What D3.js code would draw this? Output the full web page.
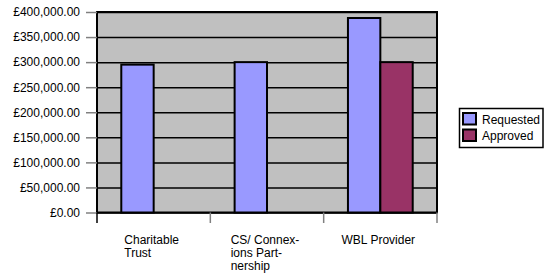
<!DOCTYPE html>
<html>
<head>
<meta charset="utf-8">
<script src="https://cdn.jsdelivr.net/npm/d3@7"></script>
<style>
  body { margin: 0; background: #fff; }
  svg { display: block; font-family: Arial, 'Liberation Sans', sans-serif; }
</style>
</head>
<body>
<div id="chart"></div>
<script>
const categories = [
  ['Charitable', 'Trust'],
  ['CS/ Connex-', 'ions Part-', 'nership'],
  ['WBL Provider'],
]
const seriesNames = ['Requested', 'Approved']
const requested = [295000, 300000, 388000]
const approved = [0, 0, 300000]
const yTicks = [0, 50000, 100000, 150000, 200000, 250000, 300000, 350000, 400000]

const colors = { Requested: '#9999FF', Approved: '#993366' }

const width = 544
const height = 278
const plot = { left: 97, right: 437, top: 12, bottom: 212.5 }

const svg = d3
  .select('#chart')
  .append('svg')
  .attr('width', width)
  .attr('height', height)

const catKeys = categories.map((c) => c.join(' '))
const rows = catKeys.map((k, i) => ({ key: k, Requested: requested[i], Approved: approved[i] }))

const x = d3.scaleBand().domain(catKeys).range([plot.left, plot.right])
// excel gap width 150%: two bars plus 1.5 bar widths of gap per category
const barW = x.bandwidth() / 3.5
const x1 = d3.scaleBand().domain(seriesNames).range([0, barW * 2])

const y = d3.scaleLinear().domain([0, 400000]).range([plot.bottom, plot.top])

const fmt = (v) => '£' + d3.format(',.2f')(v)

// plot background
svg.append('rect')
  .attr('x', plot.left)
  .attr('y', plot.top)
  .attr('width', plot.right - plot.left)
  .attr('height', plot.bottom - plot.top)
  .attr('fill', '#C0C0C0')

// gridlines
svg.append('g')
  .attr('transform', `translate(${plot.left},0)`)
  .call(d3.axisLeft(y).tickValues(yTicks).tickSize(-(plot.right - plot.left)).tickFormat(''))
  .call((g) => g.select('.domain').remove())
  .selectAll('line')
  .attr('stroke', '#000')
  .attr('stroke-width', 1.5)

// plot border
svg.append('rect')
  .attr('x', plot.left)
  .attr('y', plot.top)
  .attr('width', plot.right - plot.left)
  .attr('height', plot.bottom - plot.top)
  .attr('fill', 'none')
  .attr('stroke', '#000')
  .attr('stroke-width', 2)

// y axis ticks + labels
const yAxis = svg.append('g')
  .attr('transform', `translate(${plot.left},0)`)
  .call(d3.axisLeft(y).tickValues(yTicks).tickSize(11).tickPadding(6).tickFormat(fmt))
yAxis.select('.domain').remove()
yAxis.selectAll('line').attr('stroke', '#808080').attr('stroke-width', 1.5)
yAxis.selectAll('text')
  .attr('fill', '#000')
  .style('font-size', '12px')
  .style('font-family', "Arial, 'Liberation Sans', sans-serif")

// category boundary ticks
const bounds = catKeys.map((k) => x(k)).concat([plot.right])
svg.append('g')
  .selectAll('line')
  .data(bounds)
  .enter()
  .append('line')
  .attr('x1', (d) => d)
  .attr('x2', (d) => d)
  .attr('y1', plot.bottom)
  .attr('y2', plot.bottom + 10.5)
  .attr('stroke', (d, i) => (i === 0 ? '#000' : '#808080'))
  .attr('stroke-width', 1.5)

// bars
const groups = svg.append('g')
  .selectAll('g')
  .data(rows)
  .enter()
  .append('g')
  .attr('transform', (d) => `translate(${x(d.key) + x.bandwidth() / 2 - barW},0)`)

groups.selectAll('rect')
  .data((d) => seriesNames.map((s) => ({ s, v: d[s] })))
  .enter()
  .append('rect')
  .attr('x', (d) => x1(d.s))
  .attr('y', (d) => y(d.v))
  .attr('width', x1.bandwidth())
  .attr('height', (d) => y(0) - y(d.v))
  .attr('fill', (d) => colors[d.s])
  .attr('stroke', '#000')
  .attr('stroke-width', 2)

// category labels (wrapped, left aligned block centred in band)
const catLabels = svg.append('g')
  .selectAll('text')
  .data(categories)
  .enter()
  .append('text')
  .style('font-size', '12px')
  .attr('fill', '#000')

catLabels.each(function (lines, i) {
  const t = d3.select(this)
  lines.forEach((line, j) => {
    t.append('tspan').attr('y', 243.5 + j * 13).text(line)
  })
  const w = d3.max(t.selectAll('tspan').nodes(), (n) => n.getComputedTextLength())
  const cx = x(catKeys[i]) + x.bandwidth() / 2
  t.selectAll('tspan').attr('x', cx - w / 2 - 2)
})

// legend
const legend = svg.append('g')
legend.append('rect')
  .attr('x', 459.5)
  .attr('y', 108.5)
  .attr('width', 83.5)
  .attr('height', 39)
  .attr('fill', '#fff')
  .attr('stroke', '#000')
  .attr('stroke-width', 1.5)

const items = legend.selectAll('g')
  .data(seriesNames)
  .enter()
  .append('g')
  .attr('transform', (d, i) => `translate(463,${113 + i * 16.5})`)

items.append('rect')
  .attr('width', 13)
  .attr('height', 11.5)
  .attr('fill', (d) => colors[d])
  .attr('stroke', '#000')
  .attr('stroke-width', 2)

items.append('text')
  .attr('x', 19)
  .attr('y', 10.5)
  .style('font-size', '12px')
  .attr('fill', '#000')
  .text((d) => d)
</script>
</body>
</html>
